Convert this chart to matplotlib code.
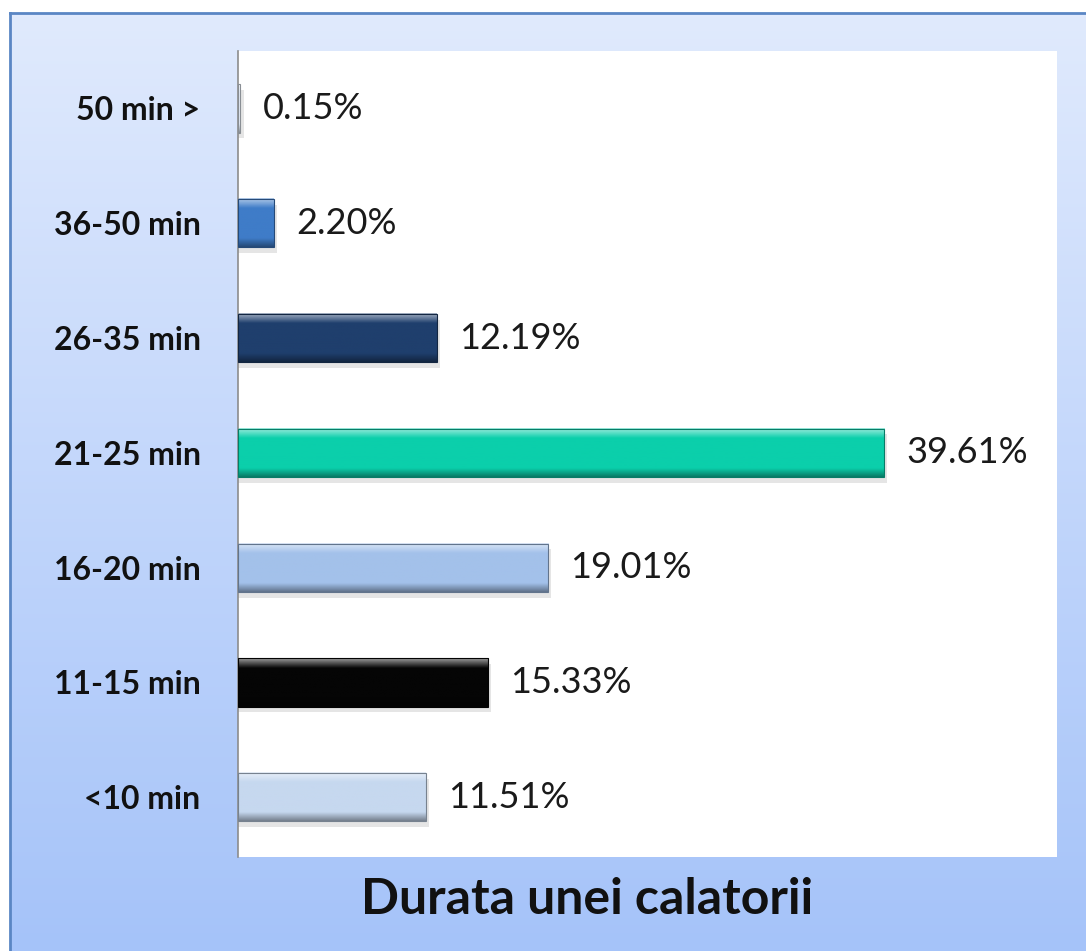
import matplotlib.pyplot as plt
import numpy as np
from matplotlib.colors import to_rgb
from matplotlib.patches import Rectangle

CATEGORIES = ["<10 min", "11-15 min", "16-20 min", "21-25 min", "26-35 min", "36-50 min", "50 min >"]
VALUES = [11.51, 15.33, 19.01, 39.61, 12.19, 2.20, 0.15]
LABELS = ["11.51%", "15.33%", "19.01%", "39.61%", "12.19%", "2.20%", "0.15%"]
COLORS = ["#c6d8ef", "#050505", "#a3c1ea", "#0bcfab", "#1f3f6d", "#3f7cc8", "#e4ecf6"]
TITLE = "Durata unei calatorii"

plt.rcParams["font.family"] = ["Lato", "DejaVu Sans"]

W, H = 1086, 951
fig = plt.figure(figsize=(W / 100, H / 100), dpi=100)
fig.patch.set_facecolor("white")

# chart frame with vertical gradient
bg = fig.add_axes([10 / W, 0, 1 - 10 / W, 1 - 13 / H])
grad = np.linspace(0, 1, 256)[:, None]
top, bot = np.array(to_rgb("#e0eafd")), np.array(to_rgb("#a5c3f9"))
img = top[None, None, :] * (1 - grad[..., None]) + bot[None, None, :] * grad[..., None]
bg.imshow(img, aspect="auto", extent=(0, 1, 0, 1), origin="upper")
bg.set_xlim(0, 1)
bg.set_ylim(0, 1)
bg.set_xticks([])
bg.set_yticks([])
for side, sp in bg.spines.items():
    sp.set_visible(side in ("top", "left"))
    sp.set_color("#5a86c4")
    sp.set_linewidth(2)

ax = fig.add_axes([238 / W, 1 - 857 / H, (1057 - 238) / W, (857 - 51) / H])
ax.set_facecolor("white")

h = 0.42
ys = np.arange(len(CATEGORIES))
for y, v, c, lab in zip(ys, VALUES, COLORS, LABELS):
    base = np.array(to_rgb(c))
    light = base + (1 - base) * 0.6
    dark = base * 0.6
    t = np.linspace(0, 1, 64)
    col = np.empty((64, 1, 3))
    for i, s in enumerate(t):
        if s < 0.2:
            col[i, 0] = light * (1 - s / 0.2) + base * (s / 0.2)
        elif s > 0.82:
            col[i, 0] = base * (1 - (s - 0.82) / 0.18) + dark * ((s - 0.82) / 0.18)
        else:
            col[i, 0] = base
    # shadow
    ax.add_patch(Rectangle((0, y - h / 2 - 0.05), v + 0.2, h, color="#000000", alpha=0.1, lw=0, zorder=1))
    ax.imshow(col, aspect="auto", extent=(0, v, y - h / 2, y + h / 2), origin="upper", zorder=2)
    ax.add_patch(Rectangle((0, y - h / 2), v, h, fill=False, ec=dark, lw=0.8, zorder=3))
    ax.text(v + 1.35, y, lab, va="center", ha="left", fontsize=26, color="#1a1a1a", zorder=4)

ax.set_xlim(0, 50.2)
ax.set_ylim(-0.52, 6.5)
ax.set_yticks(ys)
ax.set_yticklabels(CATEGORIES, fontsize=23, fontweight="bold", color="#111111")
ax.tick_params(axis="y", length=0, pad=27)
ax.set_xticks([])
for side, sp in ax.spines.items():
    sp.set_visible(side == "left")
ax.spines["left"].set_color("#8c8c8c")
ax.spines["left"].set_linewidth(1.2)

fig.text(587 / W, 1 - 900 / H, TITLE, ha="center", va="center", fontsize=36, fontweight="bold", color="#111111")

fig.savefig("out.png", dpi=100)
